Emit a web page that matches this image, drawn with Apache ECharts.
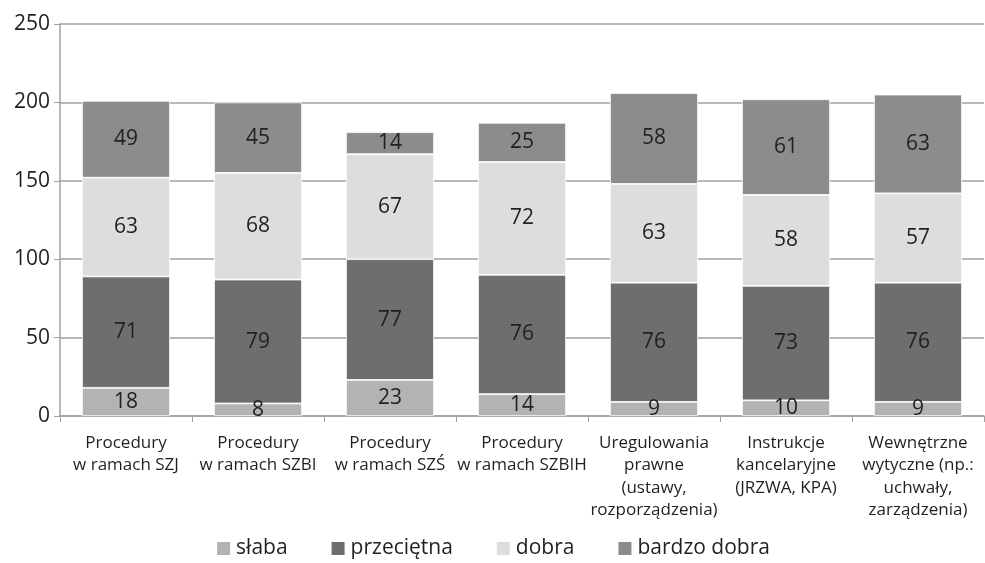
<!DOCTYPE html>
<html><head><meta charset="utf-8">
<script src="https://cdn.jsdelivr.net/npm/echarts@6/dist/echarts.min.js"></script>
<style>html,body{margin:0;padding:0;background:#fff}#c{width:985px;height:563px}</style>
</head><body><div id="c"></div>
<script>
const categories = ["Procedury\nw ramach SZJ","Procedury\nw ramach SZBI","Procedury\nw ramach SZŚ","Procedury\nw ramach SZBIH","Uregulowania\nprawne\n(ustawy,\nrozporządzenia)","Instrukcje\nkancelaryjne\n(JRZWA, KPA)","Wewnętrzne\nwytyczne (np.:\nuchwały,\nzarządzenia)"];
const seriesNames = ["słaba","przeciętna","dobra","bardzo dobra"];
const slaba = [18,8,23,14,9,10,9];
const przecietna = [71,79,77,76,76,73,76];
const dobra = [63,68,67,72,63,58,57];
const bardzoDobra = [49,45,14,25,58,61,63];
const yTicks = [0,50,100,150,200,250];
const values = [slaba, przecietna, dobra, bardzoDobra];
const colors = ["#b2b3b5","#6d6e70","#dcdddf","#8b8c8e"];
const font = "'Open Sans', 'Noto Sans', sans-serif";
const chart = echarts.init(document.getElementById('c'));
chart.setOption({
  animation:false,
  textStyle:{fontFamily:font},
  grid:{left:60,right:1,top:24,bottom:147,containLabel:false},
  legend:{top:536,left:'center',padding:[2,5],itemWidth:15,itemHeight:15,itemGap:42,icon:'rect',
    textStyle:{fontSize:21,color:'#231f20',fontFamily:font},data:seriesNames},
  xAxis:{type:'category',data:categories,
    axisLine:{lineStyle:{color:'#a0a0a0',width:1.5}},
    axisTick:{show:true,length:6,lineStyle:{color:'#a0a0a0'}},
    axisLabel:{fontSize:17,color:'#231f20',lineHeight:22.3,margin:16,interval:0,fontFamily:font}},
  yAxis:{type:'value',min:yTicks[0],max:yTicks[yTicks.length-1],interval:50,
    axisLine:{show:true,lineStyle:{color:'#a0a0a0',width:1.5}},
    axisTick:{show:true,length:6,inside:false,lineStyle:{color:'#a0a0a0'}},
    splitLine:{lineStyle:{color:'#a0a0a0',width:1.5}},
    axisLabel:{fontSize:21,color:'#231f20',margin:10,fontFamily:font}},
  series: seriesNames.map((n,i)=>({
    name:n,type:'bar',stack:'total',barWidth:88,
    data:values[i],
    itemStyle:{color:colors[i],borderColor:'#ffffff',borderWidth:0.8},
    label:{show:true,position:'inside',fontSize:21,color:'#231f20',fontFamily:font}
  }))
});
</script></body></html>
